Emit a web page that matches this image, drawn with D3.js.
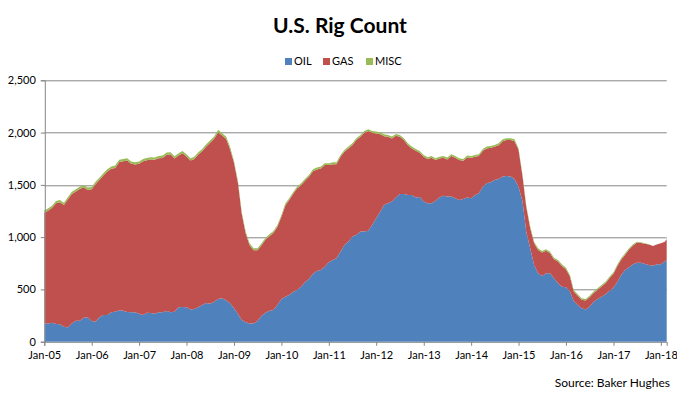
<!DOCTYPE html>
<html>
<head>
<meta charset="utf-8">
<script src="https://cdn.jsdelivr.net/npm/d3@7"></script>
<style>
  body { margin: 0; background: #fff; }
  text { font-family: Lato, "Open Sans", sans-serif; fill: #000; }
</style>
</head>
<body>
<div id="chart"></div>
<script>
// monthly readings, Jan 2005 .. Feb 2018, plus the last weekly point (mid Feb 2018)
var startMonth = new Date(2005, 0, 1)
var endDate = new Date(2018, 1, 15)

var oil = [175,175,182,169,166,144,137,175,201,201,230,235,
  198,191,233,255,255,281,287,300,297,284,281,281,
  268,255,278,274,268,281,281,293,281,287,329,332,
  329,309,313,329,351,370,364,383,408,415,396,367,
  319,265,207,185,175,175,198,249,278,297,303,351,
  408,431,447,475,494,526,568,600,651,676,686,718,
  759,782,798,861,925,957,1005,1021,1053,1053,1062,1117,
  1180,1244,1308,1324,1340,1378,1413,1413,1404,1404,1378,1383,
  1340,1324,1324,1346,1378,1397,1388,1388,1372,1356,1365,1378,
  1372,1404,1420,1483,1515,1525,1547,1557,1579,1585,1579,1557,
  1483,1340,1053,893,734,654,628,654,654,606,558,526,
  520,479,389,351,319,309,335,383,408,431,453,485,
  517,574,638,686,711,740,756,756,743,734,727,740,
  740,766,782]

var gas = [1057,1079,1097,1155,1168,1164,1222,1238,1235,1260,1247,1217,
  1260,1318,1314,1334,1372,1372,1375,1418,1429,1449,1420,1413,
  1433,1471,1458,1468,1471,1474,1477,1494,1509,1465,1451,1471,
  1442,1424,1435,1461,1471,1496,1538,1557,1596,1557,1544,1477,
  1392,1248,1019,850,748,700,677,674,699,712,738,748,
  786,875,905,937,971,971,971,977,980,971,971,971,
  930,916,900,907,891,891,875,907,907,945,952,881,
  812,741,658,636,604,591,547,515,476,444,448,424,
  428,422,435,391,374,362,355,387,387,381,365,384,
  387,364,355,343,333,329,317,323,339,343,349,361,
  352,240,240,193,208,224,225,215,192,183,209,199,
  174,145,91,88,82,85,91,82,88,97,107,123,
  133,152,146,145,170,181,193,188,194,195,188,190,
  201,191,201]

var misc = [22,22,22,22,22,22,22,22,22,22,22,22,
  22,22,22,22,22,22,22,22,22,22,22,22,
  22,22,22,22,22,22,22,22,22,22,22,22,
  22,22,22,22,22,22,22,22,22,22,22,22,
  18,18,18,18,18,18,18,18,18,18,18,18,
  18,18,18,18,18,18,18,18,18,18,18,18,
  18,18,18,18,18,18,18,18,18,18,18,18,
  18,18,18,18,18,18,18,18,18,18,18,18,
  18,18,18,18,18,18,18,18,18,18,18,18,
  18,18,18,18,18,18,18,18,18,18,18,18,
  15,15,15,15,15,15,15,15,15,15,15,15,
  14,14,14,14,14,14,14,14,14,14,14,14,
  14,14,14,14,12,10,8,6,4,2,1,1,
  0,0,0]

var seriesNames = ["OIL", "GAS", "MISC"]
var seriesColors = ["#4F81BD", "#C0504D", "#9BBB59"]
var yTicks = [0, 500, 1000, 1500, 2000, 2500]

var dates = d3.timeMonth.range(startMonth, new Date(2018, 2, 1))
dates.push(endDate)

var rows = dates.map(function(d, i) {
  return {date: d, OIL: oil[i], GAS: gas[i], MISC: misc[i]}
})

var W = 677, H = 394
var margin = {top: 80.3, right: 10.3, bottom: 52.3, left: 44.3}
var width = W - margin.left - margin.right,
    height = H - margin.top - margin.bottom

var svg = d3.select("#chart").append("svg")
    .attr("width", W)
    .attr("height", H)

// title
svg.append("text")
    .attr("x", 340)
    .attr("y", 33)
    .attr("text-anchor", "middle")
    .style("font-size", "21px")
    .style("font-weight", "bold")
    .text("U.S. Rig Count")

// legend
var legend = svg.append("g").attr("transform", "translate(285,57)")
var legX = [0, 38, 81]
seriesNames.forEach(function(name, i) {
  var g = legend.append("g").attr("transform", "translate(" + legX[i] + ",0)")
  g.append("rect").attr("width", 7).attr("height", 7).attr("y", 1).attr("fill", seriesColors[i])
  g.append("text").attr("x", 9).attr("y", 8).style("font-size", "11px").text(name)
})

var g = svg.append("g")
    .attr("transform", "translate(" + margin.left + "," + margin.top + ")")

var x = d3.scaleTime().domain([startMonth, endDate]).range([0, width])
var y = d3.scaleLinear().domain([0, 2500]).range([height, 0])

// gridlines
g.selectAll(".grid").data(yTicks.slice(1)).enter().append("line")
    .attr("x1", 0).attr("x2", width)
    .attr("y1", function(d) { return Math.round(y(d)) + 0.5 })
    .attr("y2", function(d) { return Math.round(y(d)) + 0.5 })
    .attr("stroke", "#868686")

var stack = d3.stack().keys(seriesNames)
var layers = stack(rows)

var area = d3.area()
    .x(function(d) { return x(d.data.date) })
    .y0(function(d) { return y(d[0]) })
    .y1(function(d) { return y(d[1]) })

g.selectAll(".layer").data(layers).enter().append("path")
    .attr("d", area)
    .attr("fill", function(d, i) { return seriesColors[i] })

// axes
var yAxis = d3.axisLeft(y).tickValues(yTicks).tickSize(4).tickPadding(5)
    .tickFormat(d3.format(","))
var yg = g.append("g").attr("transform", "translate(0.5,0)").call(yAxis)

var xAxis = d3.axisBottom(x)
    .tickValues(d3.timeYear.range(new Date(2005, 0, 1), new Date(2018, 0, 2)))
    .tickSize(4).tickPadding(5)
    .tickFormat(d3.timeFormat("%b-%y"))
var xg = g.append("g").attr("transform", "translate(0," + (Math.round(height) + 0.5) + ")").call(xAxis)

;[yg, xg].forEach(function(a) {
  a.select(".domain").attr("stroke", "#868686")
  a.selectAll(".tick line").attr("stroke", "#868686")
  a.selectAll(".tick text").style("font-size", "11px").attr("fill", "#000")
    .style("font-family", "Lato, 'Open Sans', sans-serif")
})

svg.append("text")
    .attr("x", 670)
    .attr("y", 387)
    .attr("text-anchor", "end")
    .style("font-size", "12px")
    .text("Source: Baker Hughes")
</script>
</body>
</html>
